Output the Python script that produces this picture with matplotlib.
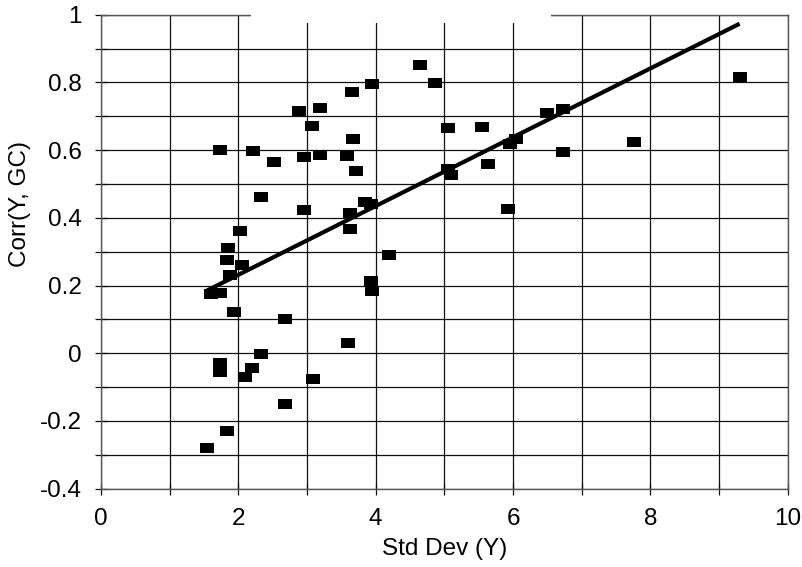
import matplotlib
matplotlib.use("Agg")
import matplotlib.pyplot as plt
import numpy as np
from matplotlib.path import Path
from matplotlib.patches import Rectangle

plt.rcParams['font.family'] = ['Liberation Sans', 'DejaVu Sans']

std_dev = [1.54, 1.60, 1.73, 1.73, 1.73, 1.74, 1.83, 1.83, 1.85, 1.88,
           1.93, 2.03, 2.06, 2.09, 2.20, 2.21, 2.33, 2.33, 2.52, 2.68,
           2.68, 2.88, 2.95, 2.95, 3.07, 3.09, 3.19, 3.19, 3.58, 3.60,
           3.62, 3.63, 3.65, 3.67, 3.72, 3.85, 3.93, 3.93, 3.94, 3.95,
           4.19, 4.64, 4.87, 5.05, 5.05, 5.09, 5.55, 5.64, 5.93, 5.95,
           6.05, 6.49, 6.73, 6.73, 7.76, 9.30]
corr = [-0.280, 0.174, 0.177, 0.600, -0.028, -0.055, -0.229, 0.275, 0.310, 0.230,
        0.123, 0.360, 0.261, -0.069, -0.043, 0.598, 0.461, -0.002, 0.566, 0.101,
        -0.150, 0.716, 0.580, 0.423, 0.672, -0.075, 0.723, 0.587, 0.582, 0.031,
        0.366, 0.413, 0.772, 0.633, 0.538, 0.447, 0.440, 0.214, 0.184, 0.795,
        0.290, 0.851, 0.798, 0.665, 0.545, 0.528, 0.669, 0.558, 0.426, 0.618,
        0.634, 0.710, 0.721, 0.594, 0.623, 0.815]

trend_slope = 0.1016
trend_intercept = 0.0285

x_ticks = [0, 2, 4, 6, 8, 10]
y_ticks = [-0.4, -0.2, 0, 0.2, 0.4, 0.6, 0.8, 1]
y_tick_labels = ['-0.4', '-0.2', '0', '0.2', '0.4', '0.6', '0.8', '1']

fig = plt.figure(figsize=(8.03, 5.67), dpi=100)
ax = fig.add_axes([101/803, 1-488.7/567, 686.7/803, 474/567])

ax.set_xlim(0, 10)
ax.set_ylim(-0.4, 1.0)

ax.set_xticks(x_ticks)
ax.set_xticks(np.arange(0, 11, 1), minor=True)
ax.set_yticks(y_ticks)
ax.set_yticklabels(y_tick_labels)
ax.set_yticks(np.arange(-0.4, 1.001, 0.1), minor=True)
ax.grid(which='both', color='#111111', linewidth=0.9)
ax.set_axisbelow(True)
ax.tick_params(which='both', direction='inout', length=8, width=0.9, labelsize=17.5, color='#111111')
ax.tick_params(axis='x', pad=10)
ax.tick_params(axis='y', pad=10)
for s in ax.spines.values():
    s.set_color('#555555')
    s.set_linewidth(1.0)

rect = Path([(-1.35, -1), (1.35, -1), (1.35, 1), (-1.35, 1), (-1.35, -1)],
            [Path.MOVETO, Path.LINETO, Path.LINETO, Path.LINETO, Path.CLOSEPOLY])
ax.plot(std_dev, corr, linestyle='none', marker=rect, markersize=10,
        color='black', markeredgewidth=0, zorder=3)

xs = np.array([min(std_dev), max(std_dev)])
ax.plot(xs, trend_slope * xs + trend_intercept, color='black', linewidth=3,
        solid_capstyle='butt', zorder=4)

ax.set_xlabel('Std Dev (Y)', fontsize=17.5)
ax.set_ylabel('Corr(Y, GC)', fontsize=17.5)
ax.xaxis.set_label_coords(0.5, (488.7 - 538) / 474)
ax.yaxis.set_label_coords((31 - 101) / 686.7, (488.7 - 204) / 474)

# blank patch at the top (as in the reference)
ax.add_patch(Rectangle(((251-101)/686.7, (488.7-23)/474), (551-251)/686.7, 0.03,
                       transform=ax.transAxes, facecolor='white', edgecolor='none',
                       clip_on=False, zorder=10))

fig.savefig('out.png', dpi=100)
